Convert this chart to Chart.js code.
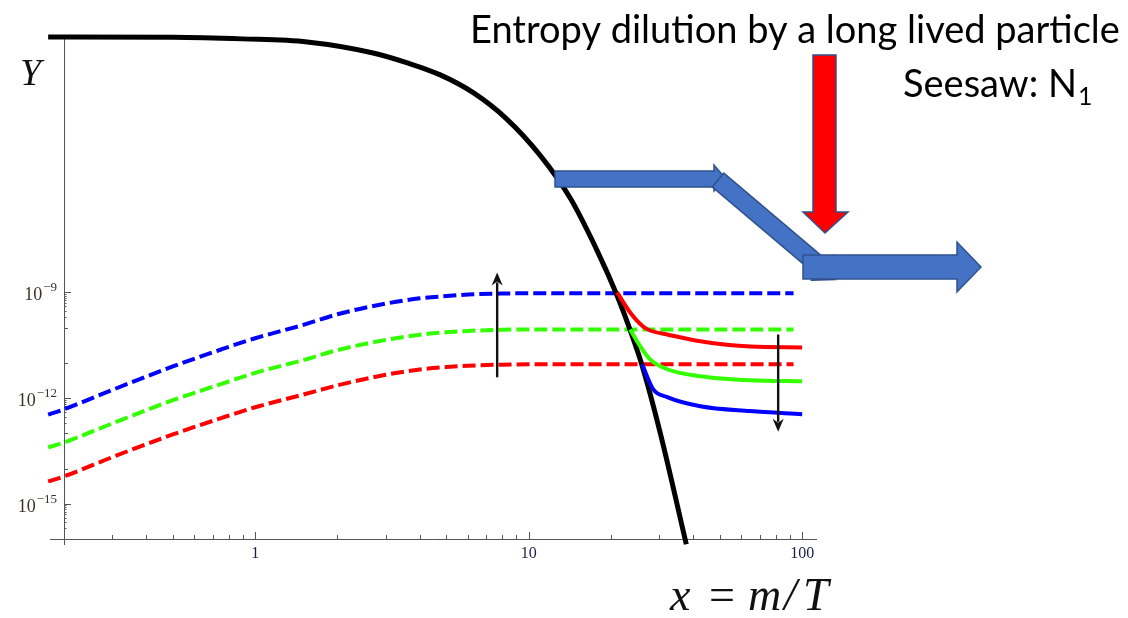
<!DOCTYPE html>
<html>
<head>
<meta charset="utf-8">
<script src="https://cdn.jsdelivr.net/npm/chart.js@4.4.1/dist/chart.umd.min.js"></script>
<style>
  html, body { margin: 0; padding: 0; background: #fff; }
  #wrap { position: relative; width: 1128px; height: 618px; }
</style>
</head>
<body>
<div id="wrap"><canvas id="yieldChart"></canvas></div>
<script>
// equilibrium abundance (black)
const eqX = [0.175, 0.5, 0.9, 1.55, 2.7, 3.6, 4.75, 6.27, 8.3, 11, 14.2, 17.9, 20.9, 23.5, 26, 30.3, 37.7];
const eqY = [1.78e-2, 1.76e-2, 1.58e-2, 1.29e-2, 6.3e-3, 3.3e-3, 1.5e-3, 4.7e-4, 8.5e-5, 7.9e-6, 4.7e-7, 1.4e-8, 9.3e-10, 8.5e-11, 8.3e-12, 1.0e-13, 7.1e-17];

// asymmetry without dilution (dashed)
const dashX = [0.175, 0.2, 0.3, 0.5, 0.75, 1, 1.5, 2, 3, 4, 5, 6, 8, 10, 20, 40, 93];
const dashBlue = [3.4e-13, 4.8e-13, 1.7e-12, 7.9e-12, 2.4e-11, 5.0e-11, 1.2e-10, 2.4e-10, 4.8e-10, 6.8e-10, 7.9e-10, 8.7e-10, 9.3e-10, 9.5e-10, 9.5e-10, 9.5e-10, 9.5e-10];
const dashGreen = [4.0e-14, 5.5e-14, 1.9e-13, 8.7e-13, 2.5e-12, 5.2e-12, 1.2e-11, 2.3e-11, 4.5e-11, 6.3e-11, 7.4e-11, 8.1e-11, 8.7e-11, 8.9e-11, 8.9e-11, 8.9e-11, 8.9e-11];
const dashRed = [4.3e-15, 6.0e-15, 2.1e-14, 9.3e-14, 2.7e-13, 5.5e-13, 1.26e-12, 2.3e-12, 4.6e-12, 6.5e-12, 7.6e-12, 8.3e-12, 8.9e-12, 9.1e-12, 9.1e-12, 9.1e-12, 9.1e-12];

// after entropy dilution (solid)
const solidRedX = [21.07, 23.5, 26.2, 27.8, 32.1, 42.4, 64.5, 100];
const solidRed = [1.0e-9, 2.7e-10, 1.08e-10, 8.3e-11, 6.4e-11, 4.1e-11, 2.9e-11, 2.75e-11];
const solidGreenX = [23.5, 25.6, 27.8, 32.1, 42.4, 64.5, 100];
const solidGreen = [8.9e-11, 2.95e-11, 1.26e-11, 6.6e-12, 4.2e-12, 3.2e-12, 3.0e-12];
const solidBlueX = [26.0, 28.5, 32.1, 42.4, 64.5, 100];
const solidBlue = [9.1e-12, 1.8e-12, 1.07e-12, 5.9e-13, 4.3e-13, 3.5e-13];

// axis ticks
const xMajorTicks = [1, 10, 100];
const xMinorTicks = [0.3, 0.4, 0.5, 0.6, 0.7, 0.8, 0.9, 2, 3, 4, 5, 6, 7, 8, 9, 20, 30, 40, 50, 60, 70, 80, 90];
const yMajorTicks = [1e-9, 1e-12, 1e-15];
const yMajorExp = ['\u22129', '\u221212', '\u221215'];
const yDecadeTicks = [1e-10, 1e-11, 1e-13, 1e-14, 1e-16];
const ySubMantissa = [2, 3, 4, 5, 6, 7, 8, 9];

// the two thin arrows (x, from, to)
const upArrow = [7.67, 3.9e-12, 3.7e-9];
const downArrow = [81.7, 6.4e-11, 1.1e-13];

function pts(xs, ys) {
  return xs.map((x, i) => ({ x: x, y: ys[i] }));
}

function lineSet(xs, ys, color, dashed, order) {
  return {
    data: pts(xs, ys),
    borderColor: color,
    borderWidth: 4,
    borderDash: dashed ? [13, 5] : [],
    borderCapStyle: 'butt',
    pointRadius: 0,
    fill: false,
    clip: false,
    cubicInterpolationMode: 'monotone',
    order: order
  };
}

const serif = '"Liberation Serif", "DejaVu Serif", serif';

// Mathematica-style axes: lines crossing at the corner, ticks pointing inward
const axesPlugin = {
  id: 'mathAxes',
  beforeDatasetsDraw(chart) {
    const { ctx, chartArea: a, scales: { x, y } } = chart;
    ctx.save();
    ctx.strokeStyle = '#555';
    ctx.lineWidth = 1;
    ctx.beginPath();
    ctx.moveTo(a.left - 14, a.bottom + 0.5);
    ctx.lineTo(a.right, a.bottom + 0.5);
    ctx.moveTo(a.left + 0.5, a.top);
    ctx.lineTo(a.left + 0.5, a.bottom + 6);
    ctx.stroke();

    ctx.beginPath();
    xMajorTicks.forEach(v => {
      const px = Math.round(x.getPixelForValue(v)) + 0.5;
      ctx.moveTo(px, a.bottom); ctx.lineTo(px, a.bottom - 7);
    });
    xMinorTicks.forEach(v => {
      const px = Math.round(x.getPixelForValue(v)) + 0.5;
      ctx.moveTo(px, a.bottom); ctx.lineTo(px, a.bottom - 4);
    });
    yMajorTicks.forEach(v => {
      const py = Math.round(y.getPixelForValue(v)) + 0.5;
      ctx.moveTo(a.left, py); ctx.lineTo(a.left + 7, py);
    });
    yDecadeTicks.forEach(v => {
      const py = Math.round(y.getPixelForValue(v)) + 0.5;
      ctx.moveTo(a.left, py); ctx.lineTo(a.left + 4, py);
    });
    yMajorTicks.forEach(v => {
      ySubMantissa.forEach(m => {
        const py = Math.round(y.getPixelForValue(v * m / 10)) + 0.5;
        ctx.moveTo(a.left, py); ctx.lineTo(a.left + 2.5, py);
      });
    });
    ctx.stroke();

    // x tick labels
    ctx.fillStyle = '#1c1f4a';
    ctx.font = '16px ' + serif;
    ctx.textAlign = 'center';
    ctx.textBaseline = 'alphabetic';
    xMajorTicks.forEach(v => {
      ctx.fillText(String(v), x.getPixelForValue(v), a.bottom + 19);
    });

    // y tick labels: 10 with a raised exponent
    ctx.fillStyle = '#3a3226';
    ctx.textAlign = 'left';
    yMajorTicks.forEach((v, i) => {
      const py = y.getPixelForValue(v);
      ctx.font = '18px ' + serif;
      const w10 = ctx.measureText('10').width;
      ctx.font = '13px ' + serif;
      const wExp = ctx.measureText(yMajorExp[i]).width;
      const x0 = 57 - wExp - w10 - 1;
      ctx.font = '18px ' + serif;
      ctx.fillText('10', x0, py + 8);
      ctx.font = '13px ' + serif;
      ctx.fillText(yMajorExp[i], x0 + w10 + 1, py - 1);
    });

    // axis titles
    ctx.fillStyle = '#111';
    ctx.font = 'italic 38px ' + serif;
    ctx.fillText('Y', 20, 85);
    const xTitle = [['x', 670, true], ['=', 709, false], ['m', 748, true], ['/', 784, true], ['T', 803, true]];
    xTitle.forEach(([s, px, it]) => {
      ctx.font = (it ? 'italic ' : '') + '46px ' + serif;
      ctx.fillText(s, px, 610);
    });
    ctx.restore();
  },
  afterDatasetsDraw(chart) {
    const { ctx, scales: { x, y } } = chart;
    ctx.save();
    ctx.strokeStyle = '#111';
    ctx.fillStyle = '#111';
    ctx.lineWidth = 2.4;
    [upArrow, downArrow].forEach(ar => {
      const px = x.getPixelForValue(ar[0]);
      const y0 = y.getPixelForValue(ar[1]);
      const y1 = y.getPixelForValue(ar[2]);
      const dir = y1 < y0 ? -1 : 1;
      ctx.beginPath();
      ctx.moveTo(px, y0);
      ctx.lineTo(px, y1 - dir * 10);
      ctx.stroke();
      ctx.beginPath();
      ctx.moveTo(px, y1);
      ctx.lineTo(px - 5.5, y1 - dir * 13);
      ctx.lineTo(px, y1 - dir * 9);
      ctx.lineTo(px + 5.5, y1 - dir * 13);
      ctx.closePath();
      ctx.fill();
    });
    ctx.restore();
  }
};

function shape(ctx, p, fill, stroke) {
  ctx.beginPath();
  ctx.moveTo(p[0][0], p[0][1]);
  for (let i = 1; i < p.length; i++) ctx.lineTo(p[i][0], p[i][1]);
  ctx.closePath();
  ctx.fillStyle = fill;
  ctx.fill();
  ctx.strokeStyle = stroke;
  ctx.lineWidth = 1.5;
  ctx.stroke();
}

// slide overlay: block arrows and captions
const overlayPlugin = {
  id: 'overlay',
  afterDraw(chart) {
    const ctx = chart.ctx;
    ctx.save();
    const blue = '#4472C4', edge = '#2F528F';
    shape(ctx, [[555, 171], [714, 171], [714, 165], [726, 179], [714, 191], [714, 187], [555, 187]], blue, edge);
    shape(ctx, [[811.7, 280.2], [832.3, 255.8], [835.8, 279.6]], blue, edge);
    shape(ctx, [[723.8, 173.1], [827.8, 261.1], [816.2, 274.9], [712.2, 186.9]], blue, edge);
    shape(ctx, [[803, 255], [957, 255], [957, 242], [981, 267], [957, 292], [957, 279], [803, 279]], blue, edge);
    shape(ctx, [[813, 55], [836, 55], [836, 212], [848, 212], [825, 233], [803, 212], [813, 212]], '#FF0000', edge);

    const sans = 'Lato, "Open Sans", sans-serif';
    const title = 'Entropy dilution by a long lived particle';
    ctx.font = '34px ' + sans;
    const size = 34 * 650 / ctx.measureText(title).width;
    ctx.font = size.toFixed(1) + 'px ' + sans;
    ctx.fillStyle = '#000';
    ctx.textAlign = 'left';
    ctx.textBaseline = 'alphabetic';
    ctx.fillText(title, 470, 43);
    ctx.fillText('Seesaw: N', 903, 97);
    const wN = ctx.measureText('Seesaw: N').width;
    ctx.font = (size * 0.65).toFixed(1) + 'px ' + sans;
    ctx.fillText('1', 903 + wN + 1, 105);
    ctx.restore();
  }
};

new Chart(document.getElementById('yieldChart'), {
  type: 'line',
  data: {
    datasets: [
      lineSet(solidRedX, solidRed, '#FF0000', false, 0),
      lineSet(solidGreenX, solidGreen, '#33FF00', false, 0),
      lineSet(solidBlueX, solidBlue, '#0000FF', false, 0),
      Object.assign(lineSet(eqX, eqY, '#000000', false, 1), { borderWidth: 5 }),
      lineSet(dashX, dashBlue, '#0000FF', true, 2),
      lineSet(dashX, dashGreen, '#33FF00', true, 2),
      lineSet(dashX, dashRed, '#FF0000', true, 2)
    ]
  },
  options: {
    responsive: true,
    maintainAspectRatio: false,
    animation: false,
    events: [],
    layout: { padding: { left: 64, top: 37, right: 311, bottom: 79 } },
    plugins: { legend: { display: false }, tooltip: { enabled: false } },
    scales: {
      x: { type: 'logarithmic', min: 0.2, max: 113.3, display: false },
      y: { type: 'logarithmic', min: 1e-16, max: 0.01786, display: false }
    }
  },
  plugins: [axesPlugin, overlayPlugin]
});
</script>
</body>
</html>
